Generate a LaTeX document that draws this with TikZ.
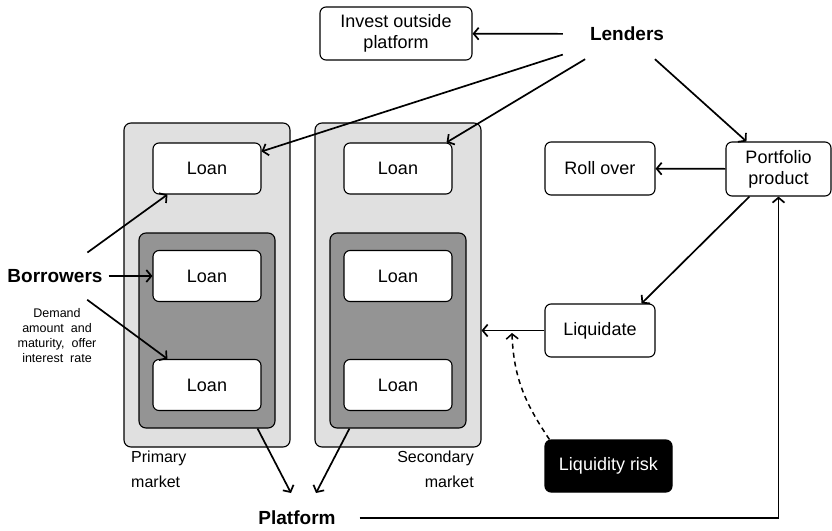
\documentclass[tikz,border=0pt]{standalone}
\usepackage{fontspec}
\setmainfont{Liberation Sans}
\usetikzlibrary{arrows.meta}

\begin{document}
\begin{tikzpicture}[x=1pt, y=-1pt,
  box/.style={draw, fill=white, rounded corners=6pt, line width=1.1pt, align=center,
    inner sep=0pt, font=\fontsize{18}{21}\selectfont},
  loan/.style={box, minimum width=108pt, minimum height=51pt},
  market/.style={draw, fill=black!12, rounded corners=7pt, line width=1.1pt,
    minimum width=166pt, minimum height=324pt},
  pool/.style={draw, fill=black!42, rounded corners=7pt, line width=1.1pt,
    minimum width=136pt, minimum height=195pt},
  actor/.style={inner sep=0pt, font=\fontsize{19}{22}\selectfont\bfseries},
  note/.style={inner sep=0pt, font=\fontsize{16}{25}\selectfont},
  flow/.style={-{Straight Barb[length=5pt, width=12pt]}, line width=1.7pt}
]
  \useasboundingbox (0,0) rectangle (832,530);

  % the two markets
  \node[market] (pMarket) at (207,285) {};
  \node[market] (sMarket) at (398,285) {};
  \node[pool] (pPool) at (207,330.5) {};
  \node[pool] (sPool) at (398,330.5) {};

  \node[loan] (pLoanA) at (207,168.5) {Loan};
  \node[loan] (pLoanB) at (207,276) {Loan};
  \node[loan] (pLoanC) at (207,385) {Loan};
  \node[loan] (sLoanA) at (398,168.5) {Loan};
  \node[loan] (sLoanB) at (398,276) {Loan};
  \node[loan] (sLoanC) at (398,385) {Loan};

  \node[note, anchor=north west, align=left] (pLabel) at (131,451) {Primary\\market};
  \node[note, anchor=north east, align=right] (sLabel) at (474,451) {Secondary\\market};

  \node[box, minimum width=152pt, minimum height=53pt] (invest) at (396,33.5) {Invest outside\\platform};
  \node[box, minimum width=110pt, minimum height=53pt] (rollover) at (600,168.5) {Roll over};
  \node[box, minimum width=105pt, minimum height=54pt] (portfolio) at (778.5,169) {Portfolio\\product};
  \node[box, minimum width=110pt, minimum height=53pt] (liquidate) at (600,330.5) {Liquidate};
  \node[box, fill=black, text=white, minimum width=127pt, minimum height=52pt] (risk) at (608.5,466) {Liquidity risk};

  \node[actor, inner xsep=27pt, inner ysep=18pt] (lenders) at (627,34) {Lenders};
  \node[actor] (borrowers) at (55,276) {Borrowers};
  \node[align=center, inner sep=0pt, font=\fontsize{12.5}{15}\selectfont] (terms) at (57,336)
    {Demand\\amount\ \ and\\maturity,\ \ offer\\interest\ \ rate};
  \node[actor] (platform) at (297,518) {Platform};

  \coordinate (riskHit) at (512,333);
  \coordinate (toPlatA) at (291,493);
  \coordinate (toPlatB) at (316,493);

  \draw[flow] (lenders) -- (invest);
  \draw[flow] (lenders) -- ([yshift=-9pt]pLoanA.north east);
  \draw[flow] (lenders) -- ([xshift=-6pt]sLoanA.north east);
  \draw[flow] (lenders) -- ([xshift=21pt]portfolio.north west);
  \draw[flow] (portfolio) -- (rollover);
  \draw[flow] ([xshift=24pt]portfolio.south west) -- ([xshift=-14pt]liquidate.north east);
  \draw[flow] (liquidate.west) -- (liquidate.west -| sMarket.east);
  \draw[flow, dash pattern=on 5pt off 4pt, line width=1.5pt]
    ([xshift=5pt]risk.north west) to[out=124, in=-88] (riskHit);

  \draw[flow, shorten <=40pt] (borrowers.center) -- ([xshift=15pt]pLoanA.south west);
  \draw[flow, shorten <=6pt] (borrowers) -- (pLoanB);
  \draw[flow, shorten <=40pt] (borrowers.center) -- ([xshift=15pt]pLoanC.north west);

  \draw[flow] ([xshift=-18pt]pPool.south east) -- (toPlatA);
  \draw[flow] ([xshift=20pt]sPool.south west) -- (toPlatB);
  \draw[flow, shorten <=24pt] (platform.east) -| (portfolio.south);
\end{tikzpicture}
\end{document}
